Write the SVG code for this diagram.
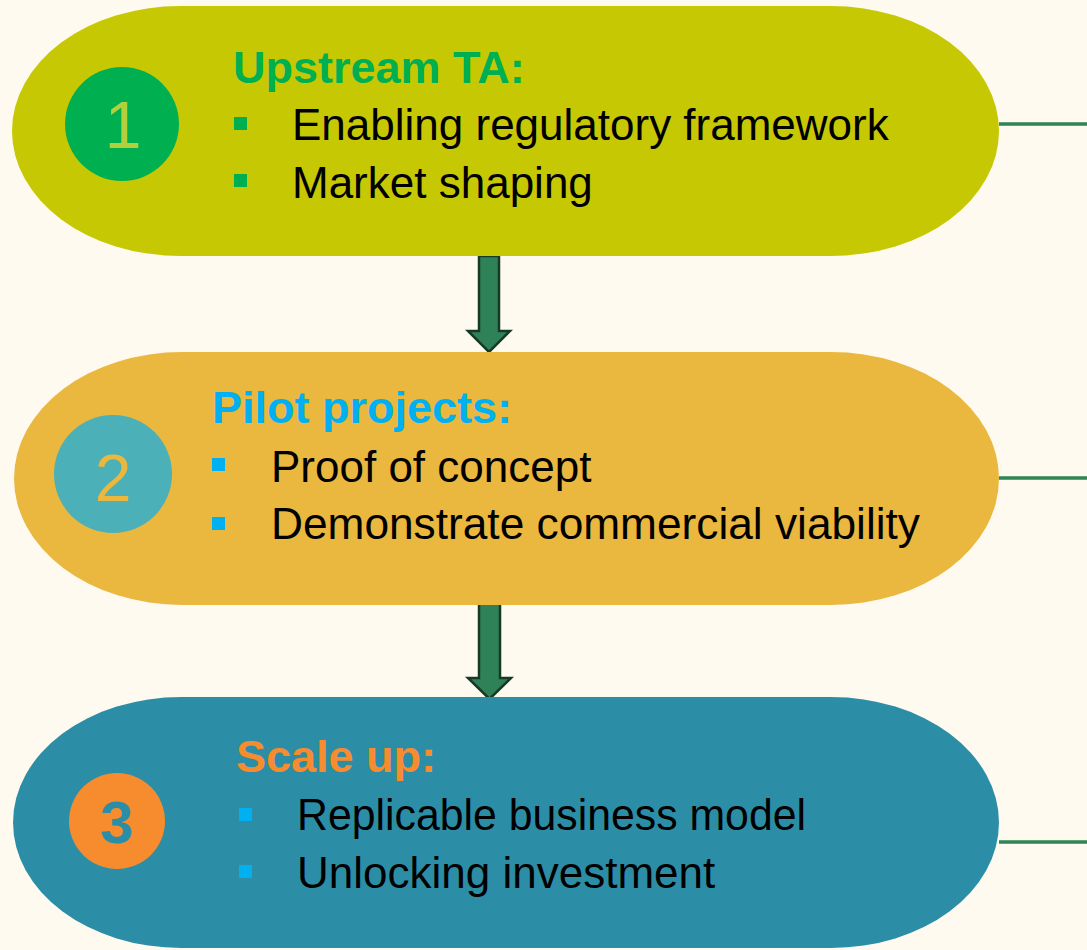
<svg xmlns="http://www.w3.org/2000/svg" width="1087" height="950" viewBox="0 0 1087 950">
  <style>
    .title { font-family: "Liberation Sans", Arial, sans-serif; font-weight: bold; font-size: 45px; }
    .body { font-family: "Liberation Sans", Arial, sans-serif; font-size: 44px; fill: #000000; }
    .num { font-family: "Liberation Sans", Arial, sans-serif; font-size: 66px; text-anchor: middle; }
    .conn { stroke: #2E8555; stroke-width: 3.5; fill: none; }
    .arrow { fill: #2F8257; stroke: #173A27; stroke-width: 2.5; stroke-linejoin: miter; }
  </style>
  <rect x="0" y="0" width="1087" height="950" fill="#FFFAF0"/>

  <g id="connectors">
    <line class="conn" x1="999" y1="124" x2="1087" y2="124"/>
    <line class="conn" x1="999" y1="478" x2="1087" y2="478"/>
    <line class="conn" x1="999" y1="842" x2="1087" y2="842"/>
    <path class="arrow" d="M479,256 L499,256 L499,331 L510,331 L489,352 L468,331 L479,331 Z"/>
    <path class="arrow" d="M479,603 L500,603 L500,678 L511,678 L489.5,699 L468,678 L479,678 Z"/>
  </g>

  <g id="node1">
    <rect x="12" y="6" width="987" height="250" rx="168" ry="125" fill="#C7C804"/>
    <ellipse cx="122" cy="124" rx="57" ry="57" fill="#00B050"/>
    <text class="num" x="123" y="148" fill="#B2CF3C">1</text>
    <text class="title" x="233" y="83" fill="#00B050">Upstream TA:</text>
    <rect x="234" y="117" width="13" height="13" fill="#00B050"/>
    <rect x="234" y="174" width="13" height="13" fill="#00B050"/>
    <text class="body" x="292" y="140">Enabling regulatory framework</text>
    <text class="body" x="292" y="198">Market shaping</text>
  </g>

  <g id="node2">
    <rect x="14" y="352" width="985" height="253" rx="168" ry="126.5" fill="#EAB73F"/>
    <ellipse cx="113" cy="474" rx="59" ry="59" fill="#4BB0B8"/>
    <text class="num" x="113" y="501" fill="#EAB73F">2</text>
    <text class="title" x="212" y="423" fill="#00B0F0">Pilot projects:</text>
    <rect x="212" y="458" width="13" height="13" fill="#00B0F0"/>
    <rect x="212" y="517" width="13" height="13" fill="#00B0F0"/>
    <text class="body" x="271" y="482">Proof of concept</text>
    <text class="body" x="271" y="539" textLength="649" lengthAdjust="spacingAndGlyphs">Demonstrate commercial viability</text>
  </g>

  <g id="node3">
    <rect x="13" y="697" width="986" height="251" rx="168" ry="125.5" fill="#2C8EA6"/>
    <ellipse cx="117" cy="821" rx="48" ry="48" fill="#F68C2D"/>
    <text class="num" x="117" y="843" fill="#2C8EA6" style="font-size:60px;font-weight:bold">3</text>
    <text class="title" x="236" y="772" fill="#F68C2D">Scale up:</text>
    <rect x="239" y="808" width="13" height="13" fill="#00B0F0"/>
    <rect x="239" y="865" width="13" height="13" fill="#00B0F0"/>
    <text class="body" x="297" y="830" textLength="509" lengthAdjust="spacingAndGlyphs">Replicable business model</text>
    <text class="body" x="297" y="888">Unlocking investment</text>
  </g>
</svg>
